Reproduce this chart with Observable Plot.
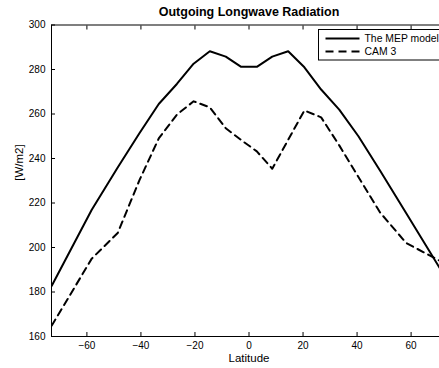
<!DOCTYPE html>
<html>
<head>
<meta charset="utf-8">
<script src="https://cdn.jsdelivr.net/npm/d3@7"></script>
<script src="https://cdn.jsdelivr.net/npm/@observablehq/plot@0.6"></script>
<style>
  html, body { margin: 0; padding: 0; background: #fff; overflow: hidden; width: 439px; height: 368px; }
  #wrap { position: relative; width: 439px; height: 368px; overflow: hidden; }
  #wrap svg.chart { position: absolute; left: 0; top: 0; max-width: none !important; width: 446px !important; height: 368px !important; }
  #legend { position: absolute; left: 317.5px; top: 29px; }
</style>
</head>
<body>
<div id="wrap"></div>
<script>
// ---- data ----
const titleText = "Outgoing Longwave Radiation";
const xLabel = "Latitude";
const yLabel = "[W/m2]";
const seriesNames = ["The MEP model", "CAM 3"];
const latitude = [-73, -58.2, -48.6, -40.5, -33.4, -26.7, -20.5, -14.5, -8.6, -2.9, 2.9, 8.6, 14.5, 20.5, 26.7, 33.4, 40.5, 48.6, 58.2, 73];
const mepModel = [182.8, 217, 236, 251.5, 264.5, 273.5, 282.6, 288.2, 285.8, 281.2, 281.2, 285.8, 288.2, 281, 271, 262, 250, 234.4, 215.4, 186];
const cam3     = [164.9, 195, 206.5, 230.4, 249, 259.7, 265.7, 263, 253.6, 248.3, 243.2, 235.4, 248.4, 261.6, 258.5, 245.9, 231.7, 215.6, 202, 192.5];
const xTicks = [-60, -40, -20, 0, 20, 40, 60];
const yTicks = [160, 180, 200, 220, 240, 260, 280, 300];

const rows = [];
latitude.forEach((lat, i) => {
  rows.push({series: seriesNames[0], lat, v: mepModel[i]});
  rows.push({series: seriesNames[1], lat, v: cam3[i]});
});

const font = "'Liberation Sans', Arial, Helvetica, sans-serif";
const blank = () => "";

const chart = Plot.plot({
  width: 446,
  height: 368,
  marginLeft: 51,
  marginRight: 0,
  marginTop: 24.5,
  marginBottom: 32,
  style: {fontFamily: font, fontSize: "10px", color: "#000", background: "transparent", maxWidth: "none"},
  x: {domain: [-73.1, 73.1]},
  y: {domain: [160, 300]},
  marks: [
    Plot.line(rows.filter(d => d.series === seriesNames[1]), {x: "lat", y: "v", stroke: "#000", strokeWidth: 2, strokeDasharray: "7,5", clip: true}),
    Plot.line(rows.filter(d => d.series === seriesNames[0]), {x: "lat", y: "v", stroke: "#000", strokeWidth: 2, clip: true}),
    Plot.frame({stroke: "#000", strokeWidth: 1}),
    Plot.axisX(xTicks, {anchor: "bottom", tickSize: 0, tickPadding: 5.5, label: null, fontSize: 10}),
    Plot.axisX(xTicks, {anchor: "bottom", tickSize: -4, tickFormat: blank, label: null}),
    Plot.axisX(xTicks, {anchor: "top", tickSize: -4, tickFormat: blank, label: null}),
    Plot.axisY(yTicks, {anchor: "left", tickSize: 0, tickPadding: 6, label: null, fontSize: 10}),
    Plot.axisY(yTicks, {anchor: "left", tickSize: -4, tickFormat: blank, label: null}),
    Plot.text([titleText], {frameAnchor: "top", dy: -13, text: d => d, fontWeight: "bold", fontSize: 12.5, lineAnchor: "middle"}),
    Plot.text([xLabel], {frameAnchor: "bottom", dy: 21.5, text: d => d, fontSize: 11.5, lineAnchor: "middle"}),
    Plot.text([yLabel], {frameAnchor: "left", dx: -32.5, rotate: -90, text: d => d, fontSize: 11.5, lineAnchor: "middle"})
  ]
});
chart.classList.add("chart");
document.getElementById("wrap").appendChild(chart);

// legend
const lg = d3.select("#wrap").append("svg").attr("id", "legend")
  .attr("width", 130).attr("height", 33);
lg.append("rect").attr("x", 0.5).attr("y", 0.5).attr("width", 128).attr("height", 30.5)
  .attr("fill", "#fff").attr("stroke", "#000").attr("stroke-width", 1);
const entries = [{name: seriesNames[0], dash: null, y: 9.5}, {name: seriesNames[1], dash: "8,5", y: 22.5}];
entries.forEach(e => {
  lg.append("line").attr("x1", 7.5).attr("x2", 41.5).attr("y1", e.y).attr("y2", e.y)
    .attr("stroke", "#000").attr("stroke-width", 2).attr("stroke-dasharray", e.dash);
  lg.append("text").attr("x", 46.5).attr("y", e.y).attr("dy", "0.35em")
    .attr("font-family", font).attr("font-size", "10.4px").text(e.name);
});
</script>
</body>
</html>
